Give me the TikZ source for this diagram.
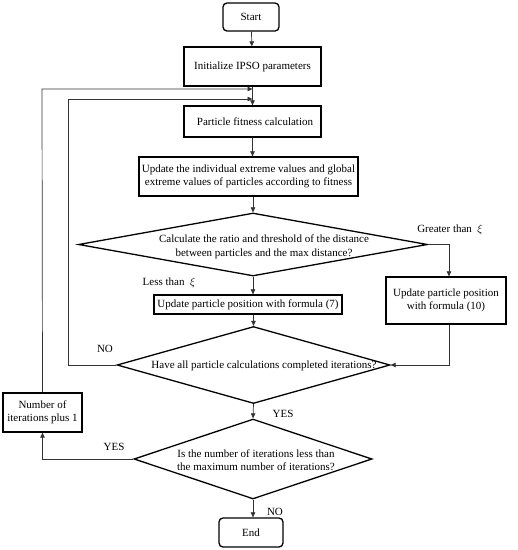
\documentclass[tikz,border=0pt]{standalone}
\usepackage{fontspec}
\setmainfont{Liberation Serif}
\usetikzlibrary{arrows.meta,shapes.geometric}
\begin{document}
\begin{tikzpicture}[x=1pt,y=-1pt,
  every node/.style={font=\fontsize{11}{13.5}\selectfont, inner sep=0pt},
  box/.style={draw, line width=1.3pt, align=center},
  term/.style={draw, line width=1.3pt, rounded corners=4pt},
  dia/.style={draw, diamond, line width=1.3pt},
  txt/.style={align=center},
  lbl/.style={},
  conn/.style={line width=0.7pt, draw=black!80},
  arr/.style={conn, -{Triangle[length=5pt,width=4.5pt]}}]
\useasboundingbox (0,0) rectangle (518,550);
% nodes
\node[term, minimum width=56pt, minimum height=28pt] (start) at (251,17) {Start};
\node[box, minimum width=137pt, minimum height=39pt] (init) at (252.5,66.5) {Initialize IPSO parameters};
\node[box, minimum width=137pt, minimum height=31pt] (fit) at (252.5,121.5) {\hspace{5pt}Particle fitness calculation};
\node[box, minimum width=219pt, minimum height=39pt] (upd) at (248.5,176.5) {Update the individual extreme values and global\\extreme values of particles according to fitness};
\node[dia, minimum width=349pt, minimum height=63pt] (d1) at (253,244.5) {};
\node[txt] (d1t) at (264,247) {Calculate the ratio and threshold of the distance\\between particles and the max distance?};
\node[box, minimum width=188pt, minimum height=19pt] (b7) at (248,304.5) {Update particle position with formula (7)};
\node[box, minimum width=120pt, minimum height=47pt] (b10) at (446,300.5) {Update particle position\\with formula (10)};
\node[dia, minimum width=273pt, minimum height=77pt] (d2) at (253.5,365) {};
\node[txt] (d2t) at (264,366) {Have all particle calculations completed iterations?};
\node[dia, minimum width=238pt, minimum height=80pt] (d3) at (253,459) {};
\node[txt] (d3t) at (256,460) {Is the number of iterations less than\\the maximum number of iterations?};
\node[box, minimum width=79pt, minimum height=39pt] (num) at (42.5,412.5) {Number of\\iterations plus 1};
\node[term, minimum width=64pt, minimum height=29pt] (end) at (251,532.5) {End};
% labels
\node[lbl] (lg) at (450,230) {Greater than \ $\xi$};
\node[lbl] (ll) at (169,283) {Less than \ $\xi$};
\node[lbl] (lno1) at (105,349) {NO};
\node[lbl] (lyes1) at (283,414) {YES};
\node[lbl] (lyes2) at (114,447) {YES};
\node[lbl] (lno2) at (275,512) {NO};
% coordinates
\coordinate (j1) at (252.5,89);
\coordinate (j2) at (252.5,99);
\coordinate (c2) at (68,99);
\coordinate (c1) at (42,89);
\coordinate (r1) at (449,244.5);
\coordinate (r2) at (449,365);
% connectors
\draw[arr] (start) -- (init);
\draw[arr] (init) -- (fit);
\draw[arr] (num.north) -- (c1) -- (j1);
\draw[arr] (d2.west) -- (d2.west -| c2) -- (c2) -- (j2);
\draw[arr] (fit) -- (upd.north -| fit.south);
\draw[arr] (upd.south -| d1.north) -- (d1.north);
\draw[arr] (d1.east) -- (r1) -- (r1 |- b10.north);
\draw[arr] (d1.south) -- (d1.south |- b7.north);
\draw[arr] (b7.south -| d2.north) -- (d2.north);
\draw[arr] (r1 |- b10.south) -- (r2) -- (d2.east);
\draw[arr] (d2.south) -- (d3.north);
\draw[arr] (d3.west) -| (num.south);
\draw[arr] (d3.south) -- (end.north -| d3.south);
\end{tikzpicture}
\end{document}
